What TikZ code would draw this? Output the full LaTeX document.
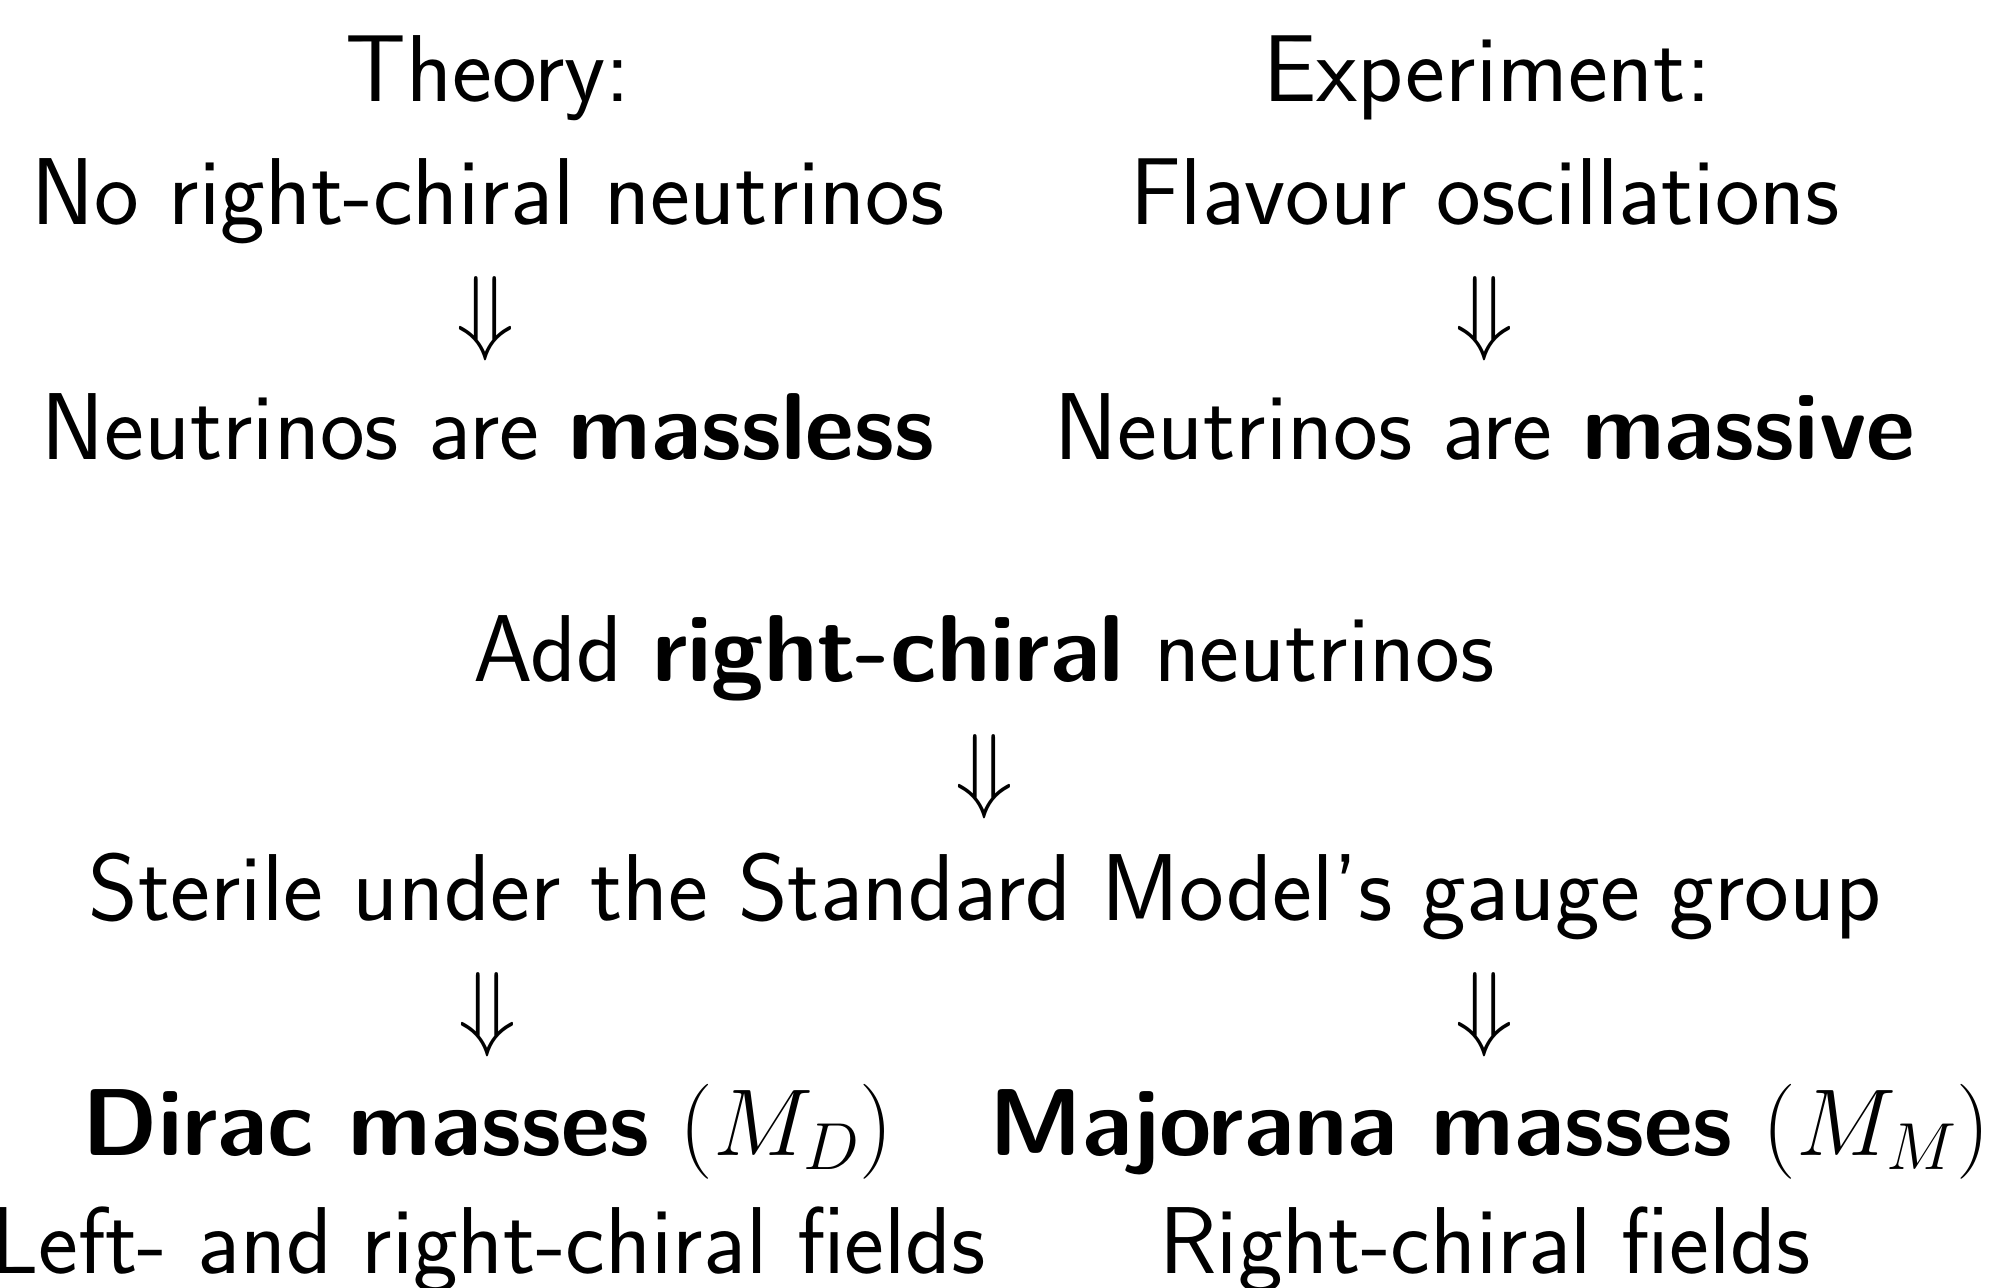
\RequirePackage{fix-cm}
\documentclass[tikz,border=0pt]{standalone}
\begin{document}
\begin{tikzpicture}[x=1pt,y=-1pt,
  txt/.style={inner sep=0pt,anchor=base,font=\fontsize{95}{114}\selectfont\sffamily},
  arr/.style={inner sep=0pt,anchor=base,font=\fontsize{95}{114}\selectfont}]
\useasboundingbox (0,0) rectangle (1990,1288);
\node[txt] (theory) at (488,101.5) {Theory:};
\node[txt] (exper) at (1487,101.5) {Experiment:};
\node[txt] (noright) at (488,224.6) {No right-chiral neutrinos};
\node[txt] (flav) at (1485,224.6) {Flavour oscillations};
\node[arr] (a1) at (486,342) {$\Downarrow$};
\node[arr] (a2) at (1485,342) {$\Downarrow$};
\node[txt] (massless) at (488,459.4) {Neutrinos are \textbf{massless}};
\node[txt] (massive) at (1485,459.4) {Neutrinos are \textbf{massive}};
\node[txt] (add) at (984,681.5) {Add \textbf{right-chiral} neutrinos};
\node[arr] (a3) at (985,800) {$\Downarrow$};
\node[txt] (sterile) at (985,920) {Sterile under the Standard Model's gauge group};
\node[arr] (a4) at (488,1038) {$\Downarrow$};
\node[arr] (a5) at (1485,1038) {$\Downarrow$};
\node[txt] (dirac) at (488,1155) {\textbf{Dirac masses} $(M_D)$};
\node[txt] (major) at (1490,1155) {\textbf{Majorana masses} $(M_M)$};
\node[txt] (left) at (488,1273) {Left- and right-chiral fields};
\node[txt] (rightf) at (1485,1273) {Right-chiral fields};
\end{tikzpicture}
\end{document}
